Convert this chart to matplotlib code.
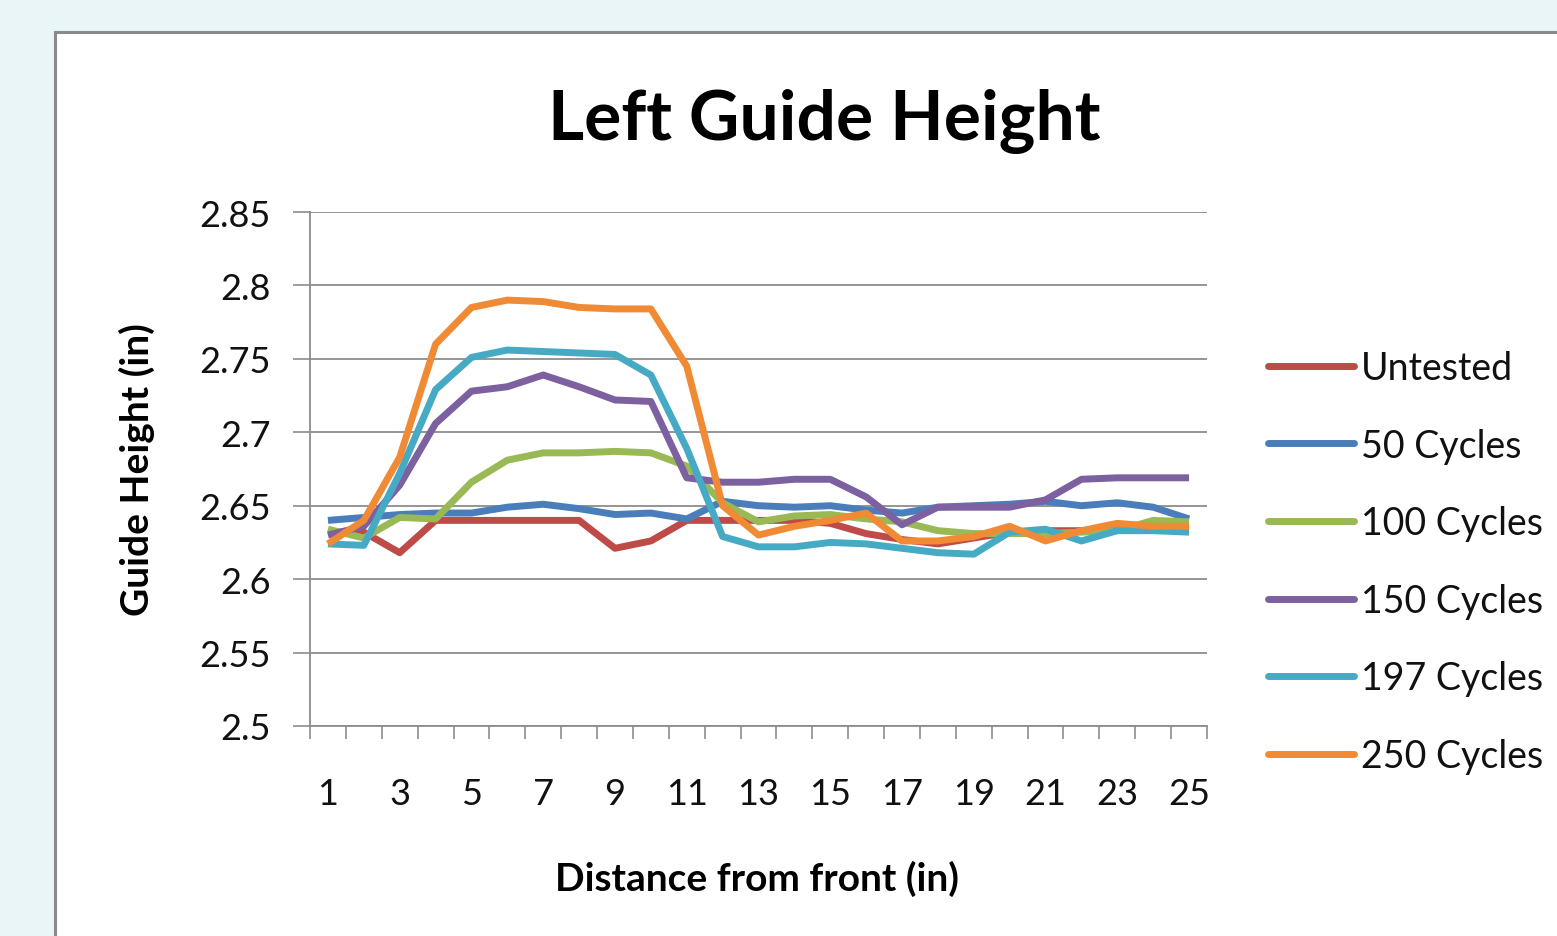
import matplotlib
matplotlib.use("Agg")
import matplotlib.pyplot as plt
from matplotlib.patches import Rectangle
import numpy as np

plt.rcParams['font.family'] = ['Lato', 'DejaVu Sans']

distance = list(range(1, 26))
series_names = ["Untested", "50 Cycles", "100 Cycles", "150 Cycles", "197 Cycles", "250 Cycles"]

untested = [2.632, 2.632, 2.618, 2.640, 2.640, 2.640, 2.640, 2.640, 2.621, 2.626, 2.640,
            2.640, 2.640, 2.640, 2.638, 2.631, 2.627, 2.624, 2.628, 2.632, 2.633, 2.633,
            2.634, 2.636, 2.637]
c50 = [2.640, 2.642, 2.644, 2.645, 2.645, 2.649, 2.651, 2.648, 2.644, 2.645, 2.641,
       2.653, 2.650, 2.649, 2.650, 2.647, 2.645, 2.649, 2.650, 2.651, 2.653, 2.650,
       2.652, 2.649, 2.641]
c100 = [2.634, 2.628, 2.642, 2.641, 2.666, 2.681, 2.686, 2.686, 2.687, 2.686, 2.677,
        2.652, 2.639, 2.643, 2.644, 2.641, 2.639, 2.633, 2.631, 2.631, 2.631, 2.632,
        2.633, 2.640, 2.639]
c150 = [2.630, 2.636, 2.664, 2.706, 2.728, 2.731, 2.739, 2.731, 2.722, 2.721, 2.669,
        2.666, 2.666, 2.668, 2.668, 2.656, 2.637, 2.649, 2.649, 2.649, 2.654, 2.668,
        2.669, 2.669, 2.669]
c197 = [2.624, 2.623, 2.672, 2.729, 2.751, 2.756, 2.755, 2.754, 2.753, 2.739, 2.689,
        2.629, 2.622, 2.622, 2.625, 2.624, 2.621, 2.618, 2.617, 2.632, 2.634, 2.626,
        2.633, 2.633, 2.632]
c250 = [2.624, 2.640, 2.683, 2.760, 2.785, 2.790, 2.789, 2.785, 2.784, 2.784, 2.745,
        2.650, 2.630, 2.636, 2.640, 2.645, 2.626, 2.626, 2.629, 2.636, 2.626, 2.633,
        2.638, 2.636, 2.636]
all_series = [untested, c50, c100, c150, c197, c250]
colors = ["#BE4B48", "#4A7EBB", "#98B954", "#7D60A0", "#46AAC5", "#F08A35"]

yticks = [2.5, 2.55, 2.6, 2.65, 2.7, 2.75, 2.8, 2.85]
ytick_labels = ["2.5", "2.55", "2.6", "2.65", "2.7", "2.75", "2.8", "2.85"]
xtick_labels = [str(d) for d in distance[::2]]

W, H = 1557, 937
fig = plt.figure(figsize=(W / 100, H / 100), dpi=100)
fig.patch.set_facecolor("#EAF5F8")

# chart area frame
frame = Rectangle((55 / W, -0.05), 1.2, 1 - 33 / H + 0.05, transform=fig.transFigure,
                  facecolor="white", edgecolor="#8A8A8A", linewidth=2.2, zorder=-5)
fig.patches.append(frame)

ax = fig.add_axes([310 / W, 1 - 727 / H, 897 / W, 514 / H])
ax.set_zorder(2)
ax.set_facecolor("none")

x = np.array(distance)
for name, vals, col in zip(series_names, all_series, colors):
    ax.plot(x, vals, color=col, lw=5.0, label=name, solid_joinstyle="round",
            solid_capstyle="butt", zorder=3)

ax.set_xlim(0.5, 25.5)
ax.set_ylim(2.5, 2.85)
ax.set_yticks(yticks)
ax.set_yticklabels(ytick_labels)
ax.yaxis.grid(True, color="#8C8C8C", lw=1.3)
ax.set_axisbelow(True)

ax.set_xticks(distance[::2])
ax.set_xticklabels(xtick_labels)
ax.set_xticks(np.arange(0.5, 26, 1), minor=True)
ax.tick_params(axis="x", which="major", length=0, labelsize=26, pad=37, colors="#111111")
ax.tick_params(axis="x", which="minor", length=9, width=1.2, color="#8C8C8C", direction="out")
ax.tick_params(axis="y", which="major", length=12, width=1.2, color="#8C8C8C",
               labelsize=26, pad=16, labelcolor="#111111")

for s in ["top", "right"]:
    ax.spines[s].set_visible(False)
for s in ["left", "bottom"]:
    ax.spines[s].set_color("#8C8C8C")
    ax.spines[s].set_linewidth(1.3)

fig.text(824 / W, 1 - 121 / H, "Left Guide Height", ha="center", va="center",
         fontsize=50, fontweight="bold", color="#000000")
fig.text(757 / W, 1 - 879 / H, "Distance from front (in)", ha="center", va="center",
         fontsize=28, fontweight="bold", color="#000000")
fig.text(137 / W, 1 - 470 / H, "Guide Height (in)", ha="center", va="center",
         rotation=90, fontsize=28, fontweight="bold", color="#000000")

leg = fig.legend(loc="center left", bbox_to_anchor=(1268 / W, 1 - 563 / H), frameon=False,
                 fontsize=27, handlelength=2.3, handletextpad=0.17, labelspacing=1.11,
                 borderaxespad=0, borderpad=0)
for t in leg.get_texts():
    t.set_color("#111111")
for h in leg.legend_handles:
    h.set_linewidth(5)
    h.set_solid_capstyle("round")

fig.savefig("out.png", dpi=100, facecolor=fig.get_facecolor())
